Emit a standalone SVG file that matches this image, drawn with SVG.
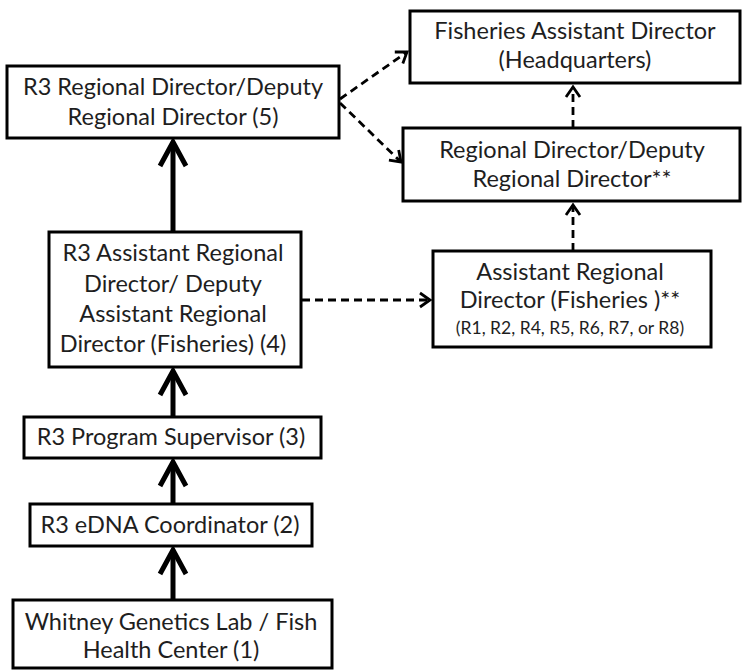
<svg xmlns="http://www.w3.org/2000/svg" width="743" height="671" viewBox="0 0 743 671">
<style>
.box{fill:#fff;stroke:#000;stroke-width:3}
text{font-family:Lato,"Open Sans","Liberation Sans",sans-serif;font-size:23.5px;fill:#1e1e1e;text-anchor:middle}
.sm{font-size:17.5px}
.solid{stroke:#000;stroke-width:5;fill:none}
.dash{stroke:#000;stroke-width:2.8;fill:none;stroke-dasharray:8 5}
</style>
<defs>
<marker id="hs" markerUnits="userSpaceOnUse" orient="auto" refX="0" refY="0" overflow="visible">
<path d="M-24,-13 L0,0 L-24,13" fill="none" stroke="#000" stroke-width="5" stroke-linejoin="miter"/>
</marker>
<marker id="hd" markerUnits="userSpaceOnUse" orient="auto" refX="0" refY="0" overflow="visible">
<path d="M-10,-7 L0,0 L-10,7" fill="none" stroke="#000" stroke-width="2.8"/>
</marker>
</defs>
<g id="connectors">
<line class="solid" x1="173" y1="232" x2="173" y2="142" marker-end="url(#hs)"/>
<line class="solid" x1="173" y1="417" x2="173" y2="371" marker-end="url(#hs)"/>
<line class="solid" x1="173" y1="504" x2="173" y2="462" marker-end="url(#hs)"/>
<line class="solid" x1="173" y1="600" x2="173" y2="550" marker-end="url(#hs)"/>
<line class="dash" x1="340" y1="99" x2="407" y2="52" marker-end="url(#hd)"/>
<line class="dash" x1="340" y1="103" x2="401" y2="162" marker-end="url(#hd)"/>
<line class="dash" x1="573" y1="128" x2="573" y2="87" marker-end="url(#hd)"/>
<line class="dash" x1="573" y1="251" x2="573" y2="205" marker-end="url(#hd)"/>
<line class="dash" x1="302" y1="300" x2="430" y2="300" marker-end="url(#hd)"/>
</g>
<g id="n5">
<rect class="box" x="7" y="66" width="332" height="72"/>
<text x="173" y="95">R3 Regional Director/Deputy</text>
<text x="173" y="125">Regional Director (5)</text>
</g>
<g id="fad">
<rect class="box" x="410" y="11" width="330" height="72"/>
<text x="575" y="39">Fisheries Assistant Director</text>
<text x="575" y="68">(Headquarters)</text>
</g>
<g id="rd">
<rect class="box" x="403" y="128" width="337" height="73"/>
<text x="572" y="158">Regional Director/Deputy</text>
<text x="572" y="187">Regional Director**</text>
</g>
<g id="n4">
<rect class="box" x="49" y="232" width="252" height="135"/>
<text x="173" y="261">R3 Assistant Regional</text>
<text x="173" y="292">Director/ Deputy</text>
<text x="173" y="322">Assistant Regional</text>
<text x="173" y="352">Director (Fisheries) (4)</text>
</g>
<g id="ard">
<rect class="box" x="433" y="251" width="278" height="96"/>
<text x="570" y="280">Assistant Regional</text>
<text x="570" y="308">Director (Fisheries )**</text>
<text class="sm" x="570" y="334">(R1, R2, R4, R5, R6, R7, or R8)</text>
</g>
<g id="n3">
<rect class="box" x="24" y="417" width="297" height="41"/>
<text x="171" y="445">R3 Program Supervisor (3)</text>
</g>
<g id="n2">
<rect class="box" x="30" y="504" width="282" height="42"/>
<text x="170" y="533">R3 eDNA Coordinator (2)</text>
</g>
<g id="n1">
<rect class="box" x="13" y="600" width="319" height="68"/>
<text x="171" y="630">Whitney Genetics Lab / Fish</text>
<text x="171" y="658">Health Center (1)</text>
</g>
</svg>
